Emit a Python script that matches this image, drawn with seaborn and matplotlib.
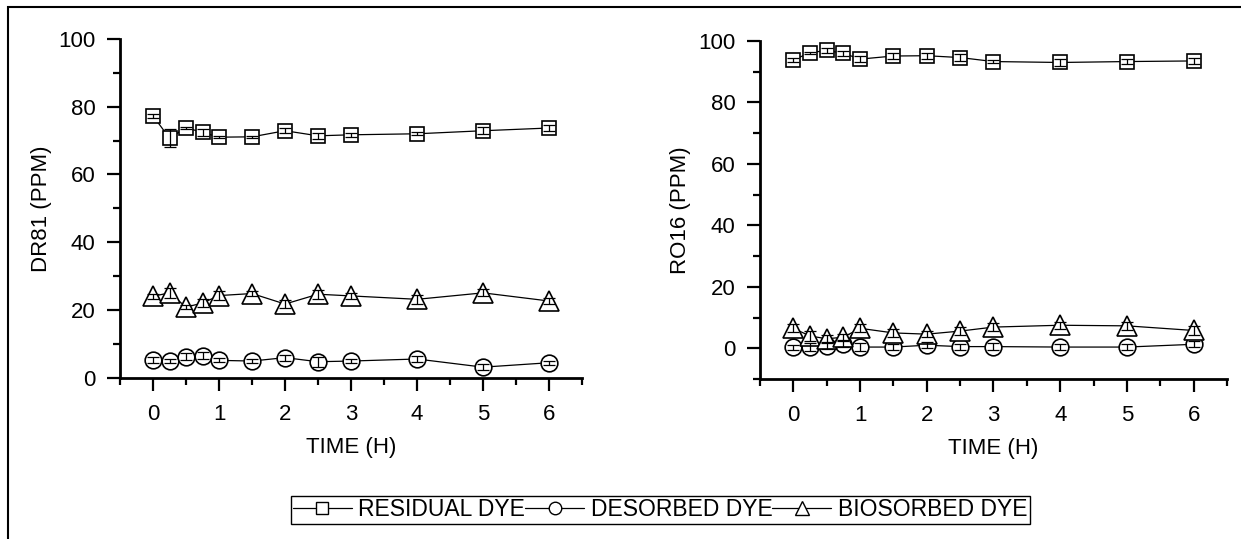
import numpy as np
import pandas as pd
import matplotlib
matplotlib.use("Agg")
import matplotlib.pyplot as plt
from matplotlib.lines import Line2D
from matplotlib.patches import Rectangle
from matplotlib.ticker import MultipleLocator
import seaborn as sns

# ---------------- data ----------------
time_h = [0, 0.25, 0.5, 0.75, 1, 1.5, 2, 2.5, 3, 4, 5, 6]

dr81_residual = [77.3, 70.7, 73.8, 72.4, 71.0, 71.1, 72.9, 71.4, 71.7, 72.0, 72.9, 73.7]
dr81_residual_err = [0.6, 2.6, 0.3, 1.0, 0.3, 0.2, 0.8, 0.8, 0.6, 0.4, 1.0, 0.8]
dr81_desorbed = [5.3, 5.1, 6.3, 6.6, 5.2, 5.0, 6.0, 4.8, 5.0, 5.6, 3.2, 4.5]
dr81_desorbed_err = [1.0, 0.6, 1.0, 1.0, 0.6, 0.6, 0.9, 1.5, 0.6, 0.8, 0.9, 0.6]
dr81_biosorbed = [24.1, 25.1, 20.9, 22.1, 24.3, 24.9, 21.8, 24.7, 24.2, 23.2, 25.1, 22.7]
dr81_biosorbed_err = [0.8, 1.5, 0.6, 1.2, 1.4, 0.8, 1.2, 1.3, 0.9, 1.3, 1.0, 0.8]

ro16_residual = [93.8, 96.2, 96.9, 96.0, 94.1, 95.1, 95.2, 94.6, 93.3, 93.0, 93.3, 93.5]
ro16_residual_err = [0.5, 0.3, 0.9, 0.8, 1.0, 1.0, 1.0, 1.0, 0.4, 1.2, 0.9, 0.9]
ro16_desorbed = [0.4, 0.4, 0.75, 1.3, 0.4, 0.4, 1.0, 0.55, 0.55, 0.4, 0.4, 1.3]
ro16_desorbed_err = [0.8, 1.2, 1.0, 1.0, 1.2, 1.0, 1.0, 1.0, 1.2, 1.0, 1.0, 1.0]
ro16_biosorbed = [6.5, 4.0, 3.1, 3.6, 6.5, 5.0, 4.6, 5.6, 6.9, 7.5, 7.3, 5.8]
ro16_biosorbed_err = [1.3, 1.5, 1.2, 1.0, 1.3, 1.2, 1.0, 1.2, 1.4, 1.2, 1.2, 1.5]

series_names = ["RESIDUAL DYE", "DESORBED DYE", "BIOSORBED DYE"]
y_labels = ["DR81 (PPM)", "RO16 (PPM)"]
x_label = "TIME (H)"

# ---------------- style ----------------
sns.set_theme(style="ticks")
plt.rcParams["font.family"] = ["Liberation Sans", "DejaVu Sans"]
plt.rcParams["axes.linewidth"] = 2.0

fig = plt.figure(figsize=(12.41, 5.39), dpi=100)
ax1 = fig.add_axes([0.0967, 0.2987, 0.3723, 0.6293])
ax2 = fig.add_axes([0.6124, 0.2968, 0.3763, 0.6272])

markers = ["s", "o", "^"]
msizes = [10.5, 12, 14]

panels = [
    (ax1, [dr81_residual, dr81_desorbed, dr81_biosorbed],
     [dr81_residual_err, dr81_desorbed_err, dr81_biosorbed_err], (0, 100), y_labels[0]),
    (ax2, [ro16_residual, ro16_desorbed, ro16_biosorbed],
     [ro16_residual_err, ro16_desorbed_err, ro16_biosorbed_err], (-10, 100), y_labels[1]),
]

for ax, ys, errs, ylim, ylab in panels:
    for name, yv, ev, mk, ms in zip(series_names, ys, errs, markers, msizes):
        df = pd.DataFrame({"t": time_h, "v": yv})
        sns.lineplot(data=df, x="t", y="v", ax=ax, color="black", linewidth=0.9,
                     marker=mk, markersize=ms, markerfacecolor="white",
                     markeredgecolor="black", markeredgewidth=1.2,
                     estimator=None, sort=False, legend=False, zorder=3)
        ax.errorbar(time_h, yv, yerr=ev, fmt="none", ecolor="black",
                    elinewidth=0.9, capsize=4, capthick=0.9, zorder=4)
    ax.set_xlim(-0.5, 6.5)
    ax.set_ylim(*ylim)
    ax.xaxis.set_major_locator(MultipleLocator(1))
    ax.xaxis.set_minor_locator(MultipleLocator(0.5))
    ax.yaxis.set_major_locator(MultipleLocator(20))
    ax.yaxis.set_minor_locator(MultipleLocator(10))
    ax.tick_params(which="major", length=9.5, width=1.6, direction="out",
                   labelsize=16, pad=8, color="black", labelcolor="black")
    ax.tick_params(which="minor", length=5, width=1.6, direction="out", color="black")
    ax.tick_params(axis="x", which="major", pad=9)
    for s in ["top", "right"]:
        ax.spines[s].set_visible(False)
    for s in ["left", "bottom"]:
        ax.spines[s].set_color("black")
        ax.spines[s].set_linewidth(2.0)
    ax.set_xlabel(x_label, fontsize=16, color="black")
    ax.set_ylabel(ylab, fontsize=16, color="black")
    ax.xaxis.set_label_coords(0.5, -0.175)
    ax.yaxis.set_label_coords(-0.147, 0.5)
    ax.set_facecolor("white")

# legend
handles = [
    Line2D([0], [0], color="black", linewidth=0.9, marker="s", markersize=8,
           markerfacecolor="white", markeredgecolor="black", markeredgewidth=1.0),
    Line2D([0], [0], color="black", linewidth=0.9, marker="o", markersize=9,
           markerfacecolor="white", markeredgecolor="black", markeredgewidth=1.0),
    Line2D([0], [0], color="black", linewidth=0.9, marker="^", markersize=10,
           markerfacecolor="white", markeredgecolor="black", markeredgewidth=1.0),
]
leg = fig.legend(handles, series_names, loc="center", bbox_to_anchor=(0.532, 0.054),
                 ncol=3, frameon=True, fancybox=False, framealpha=1,
                 edgecolor="black", fontsize=16.5, handlelength=2.55,
                 handletextpad=0.3, columnspacing=0.0, borderpad=0.1,
                 borderaxespad=0)
leg.get_frame().set_linewidth(1.0)
for t in leg.get_texts():
    t.set_color("black")

# outer frame
fig.patches.append(Rectangle((8 / 1241, -0.05), 1.2, 1 - 7 / 539 + 0.05,
                             transform=fig.transFigure, fill=False,
                             edgecolor="black", linewidth=1.5, zorder=0))

fig.savefig("out.png", dpi=100, facecolor="white")
